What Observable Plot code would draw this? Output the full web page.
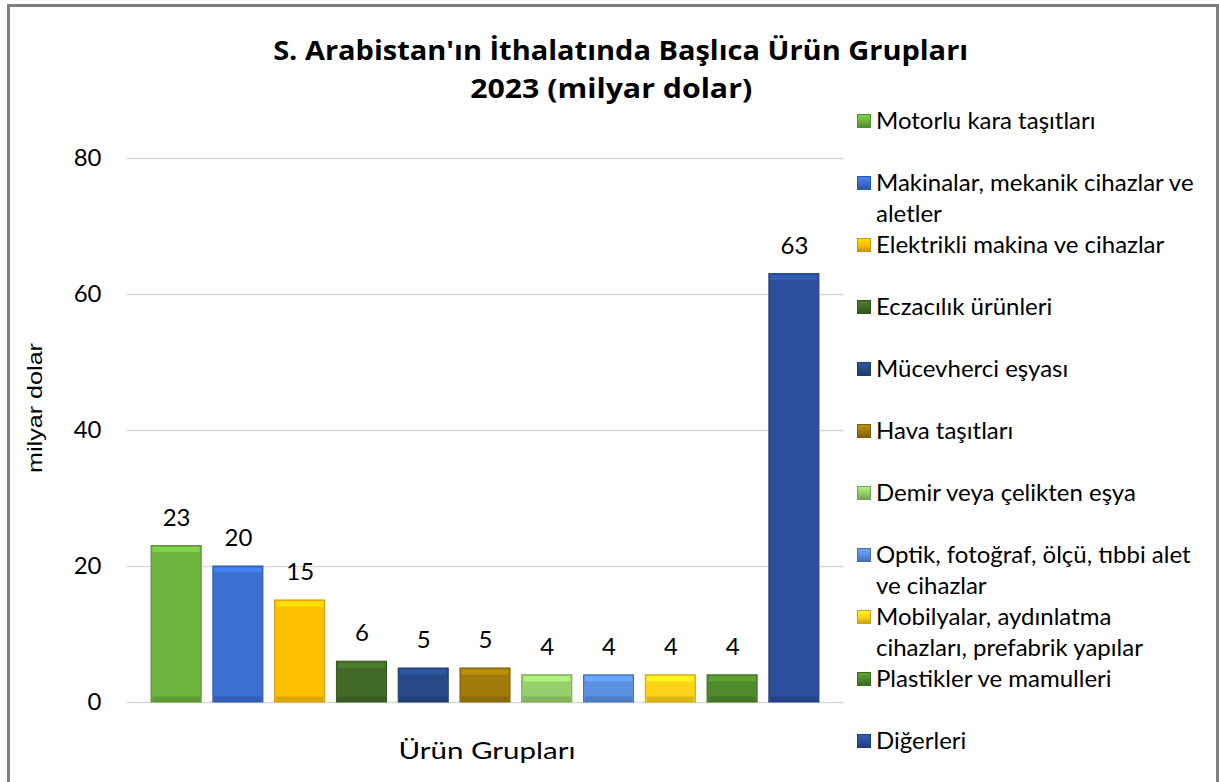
<!DOCTYPE html>
<html><head><meta charset="utf-8">
<script src="https://cdn.jsdelivr.net/npm/d3@7"></script>
<script src="https://cdn.jsdelivr.net/npm/@observablehq/plot@0.6"></script>
<style>
html,body{margin:0;padding:0;background:#fff}
body{width:1219px;height:782px;overflow:hidden;position:relative;font-family:Lato,"Open Sans",sans-serif;color:#000}
#chart{position:absolute;left:0;top:0}
#frame{position:absolute;left:7px;top:4px;width:1212px;height:830px;border:3px solid #7f7f7f;box-sizing:border-box;pointer-events:none}
.fit{position:absolute;white-space:nowrap;line-height:1;transform-origin:50% 50%}
.leg{position:absolute;left:857px;width:345px;font-size:24px;line-height:31px}
.leg .sw{position:absolute;left:0;top:10.4px;width:14px;height:14px;box-sizing:border-box}
.leg .tx{position:absolute;left:19px;top:0;width:326px}
</style></head>
<body>
<div id="chart"></div>
<div id="texts"></div>
<div id="legend"></div>
<div id="frame"></div>
<script>
const categories = [
  "Motorlu kara taşıtları",
  "Makinalar, mekanik cihazlar ve aletler",
  "Elektrikli makina ve cihazlar",
  "Eczacılık ürünleri",
  "Mücevherci eşyası",
  "Hava taşıtları",
  "Demir veya çelikten eşya",
  "Optik, fotoğraf, ölçü, tıbbi alet ve cihazlar",
  "Mobilyalar, aydınlatma cihazları, prefabrik yapılar",
  "Plastikler ve mamulleri",
  "Diğerleri"
];
const values = [23, 20, 15, 6, 5, 5, 4, 4, 4, 4, 63];
const colors = ["#6db33f", "#3b6fd1", "#ffc000", "#416a27", "#274a86", "#a07a0a", "#97cf6c", "#5b8fe0", "#ffd21a", "#4f8a2c", "#2b4f9c"];
const yTicks = [0, 20, 40, 60, 80];
const titleLines = ["S. Arabistan'ın İthalatında Başlıca Ürün Grupları", "2023 (milyar dolar)"];
const yLabel = "milyar dolar";
const xLabel = "Ürün Grupları";

const data = categories.map((c, i) => ({category: c, value: values[i], color: colors[i]}));
const W = 1219, H = 782;
const darker = c => String(d3.color(c).darker(0.7));
const lighter = c => String(d3.color(c).brighter(0.45));

const svg = Plot.plot({
  width: W, height: H,
  marginLeft: 127, marginRight: W - 843, marginTop: 158, marginBottom: H - 702,
  style: {background: "transparent", fontFamily: "Lato, 'Open Sans', sans-serif", fontSize: "24px", color: "#000", overflow: "visible", maxWidth: "none"},
  x: {domain: categories, paddingInner: 0.19, paddingOuter: 0.39, round: false, axis: null},
  y: {domain: [0, 80], label: null},
  color: {type: "identity"},
  marks: [
    Plot.ruleY(yTicks, {stroke: "#d9d9d9", strokeWidth: 1.6}),
    Plot.axisY(yTicks, {tickSize: 0, tickPadding: 26, label: null, fontSize: 24}),
    Plot.barY(data, {x: "category", y: "value", fill: "color", stroke: d => darker(d.color), strokeWidth: 1}),
    Plot.tickY(data, {x: "category", y: "value", stroke: d => lighter(d.color), strokeWidth: 5, dy: 3.5, insetLeft: 1.5, insetRight: 1.5}),
    Plot.tickY(data, {x: "category", y: () => 0, stroke: d => darker(d.color), strokeWidth: 5, dy: -3.5, insetLeft: 1.5, insetRight: 1.5, strokeOpacity: 0.6}),
    Plot.text(data, {x: "category", y: "value", text: d => String(d.value), dy: -28, fontSize: 24, fill: "#000"})
  ]
});
document.getElementById("chart").appendChild(svg);

// text placed by baseline, centre and target width
const texts = document.getElementById("texts");
function placeText(str, {cx, baseline, target, size, family, weight = "normal", ascent, rotate = false}) {
  const el = document.createElement("span");
  el.className = "fit";
  el.textContent = str;
  el.style.fontSize = size + "px";
  el.style.fontFamily = family;
  el.style.fontWeight = weight;
  texts.appendChild(el);
  const w = el.getBoundingClientRect().width;
  const h = el.getBoundingClientRect().height;
  const s = target / w;
  if (!rotate) {
    el.style.left = (cx - w / 2) + "px";
    el.style.top = (baseline - ascent * size) + "px";
    el.style.transform = `scaleX(${s})`;
  } else {
    // cx = horizontal centre of rotated text, baseline = vertical centre
    el.style.left = (cx - w / 2) + "px";
    el.style.top = (baseline - h / 2) + "px";
    el.style.transform = `rotate(-90deg) scaleX(${s})`;
  }
}
placeText(titleLines[0], {cx: 620.5, baseline: 60, target: 695, size: 26, family: "'Open Sans'", weight: "bold", ascent: 0.888});
placeText(titleLines[1], {cx: 611, baseline: 98, target: 282, size: 26, family: "'Open Sans'", weight: "bold", ascent: 0.888});
placeText(xLabel, {cx: 486.5, baseline: 759, target: 177, size: 24, family: "Lato", ascent: 0.87});
placeText(yLabel, {cx: 35, baseline: 408, target: 130, size: 20, family: "'Liberation Sans'", rotate: true});

const legend = document.getElementById("legend");
categories.forEach((c, i) => {
  const baseline = 128 + 62 * i;
  const item = document.createElement("div");
  item.className = "leg";
  item.style.top = (baseline - 24.4) + "px";
  item.innerHTML = `<div class="sw" style="background:linear-gradient(180deg, ${lighter(colors[i])}, ${colors[i]} 50%, ${darker(colors[i])});border:1px solid ${darker(colors[i])}"></div><div class="tx"></div>`;
  item.querySelector(".tx").textContent = c;
  legend.appendChild(item);
});
</script>
</body></html>
